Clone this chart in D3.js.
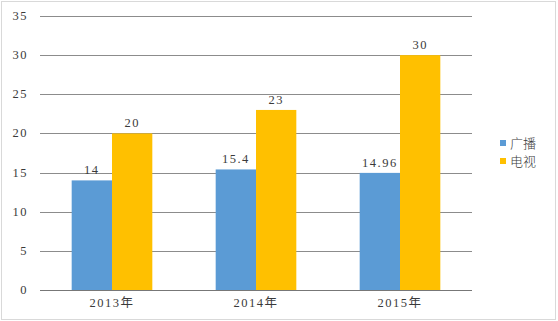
<!DOCTYPE html>
<html>
<head>
<meta charset="utf-8">
<script src="https://cdn.jsdelivr.net/npm/d3@7/dist/d3.min.js"></script>
<style>
  body { margin: 0; background: #fff; }
  svg { display: block; }
  text { font-family: "Liberation Serif", "Noto Sans CJK SC", serif; fill: #3a3a3a; }
</style>
</head>
<body>
<svg id="chart"></svg>
<script>
var categories = ["2013年", "2014年", "2015年"];
var seriesNames = ["广播", "电视"];
var broadcast = [14, 15.4, 14.96];
var television = [20, 23, 30];
var yTicks = [0, 5, 10, 15, 20, 25, 30, 35];
var colors = ["#5b9bd5", "#ffc000"];

var width = 558, height = 321,
    margin = {top: 16, right: 86, bottom: 31, left: 40};

var svg = d3.select("#chart")
    .attr("width", width)
    .attr("height", height);

// outer frame
svg.append("rect")
    .attr("x", 1.5).attr("y", 1.5)
    .attr("width", width - 4).attr("height", height - 3)
    .attr("fill", "none")
    .attr("stroke", "#d9d9d9");

var x0 = d3.scaleBand()
    .domain(categories)
    .range([margin.left, width - margin.right])
    .paddingInner(0.44)
    .paddingOuter(0.22);

var x1 = d3.scaleBand()
    .domain(seriesNames)
    .range([0, x0.bandwidth()]);

var y = d3.scaleLinear()
    .domain([0, 35])
    .range([height - margin.bottom, margin.top]);

// gridlines
svg.append("g")
    .selectAll("line")
    .data(yTicks)
    .enter()
    .append("line")
    .attr("x1", margin.left)
    .attr("x2", width - margin.right)
    .attr("y1", function(d){ return Math.round(y(d)) + 0.5; })
    .attr("y2", function(d){ return Math.round(y(d)) + 0.5; })
    .attr("stroke", function(d){ return d === 0 ? "#777" : "#8c8c8c"; })
    .attr("stroke-width", 1);

// y labels
svg.append("g")
    .selectAll("text")
    .data(yTicks)
    .enter()
    .append("text")
    .attr("x", 28)
    .attr("y", function(d){ return y(d) + 4; })
    .attr("text-anchor", "end")
    .attr("font-size", 12.5)
    .attr("letter-spacing", 1.5)
    .text(function(d){ return d; });

var rows = categories.map(function(c, i){
    return {cat: c, values: [broadcast[i], television[i]]};
});

var groups = svg.append("g")
    .selectAll("g")
    .data(rows)
    .enter()
    .append("g")
    .attr("transform", function(d){ return "translate(" + x0(d.cat) + ",0)"; });

groups.selectAll("rect")
    .data(function(d){ return d.values.map(function(v, j){ return {name: seriesNames[j], v: v, j: j}; }); })
    .enter()
    .append("rect")
    .attr("x", function(d){ return x1(d.name); })
    .attr("width", x1.bandwidth())
    .attr("y", function(d){ return y(d.v); })
    .attr("height", function(d){ return y(0) - y(d.v); })
    .attr("fill", function(d){ return colors[d.j]; });

groups.selectAll("text.val")
    .data(function(d){ return d.values.map(function(v, j){ return {name: seriesNames[j], v: v}; }); })
    .enter()
    .append("text")
    .attr("class", "val")
    .attr("x", function(d){ return x1(d.name) + x1.bandwidth() / 2; })
    .attr("y", function(d){ return y(d.v) - 6; })
    .attr("text-anchor", "middle")
    .attr("font-size", 12.5)
    .attr("letter-spacing", 1.5)
    .text(function(d){ return d.v; });

// x labels
svg.append("g")
    .selectAll("text")
    .data(categories)
    .enter()
    .append("text")
    .attr("x", function(d){ return x0(d) + x0.bandwidth() / 2; })
    .attr("y", height - 14)
    .attr("text-anchor", "middle")
    .attr("font-size", 12.5)
    .attr("letter-spacing", 1.5)
    .text(function(d){ return d; });

// legend
var legend = svg.append("g")
    .attr("transform", "translate(500,140)");

var item = legend.selectAll("g")
    .data(seriesNames)
    .enter()
    .append("g")
    .attr("transform", function(d, i){ return "translate(0," + (i * 18) + ")"; });

item.append("rect")
    .attr("width", 6).attr("height", 6)
    .attr("y", 0)
    .attr("fill", function(d, i){ return colors[i]; });

item.append("text")
    .attr("x", 10)
    .attr("y", 7.5)
    .attr("font-size", 13)
    .attr("font-family", "Noto Sans CJK SC")
    .attr("font-weight", 300)
    .text(function(d){ return d; });
</script>
</body>
</html>
